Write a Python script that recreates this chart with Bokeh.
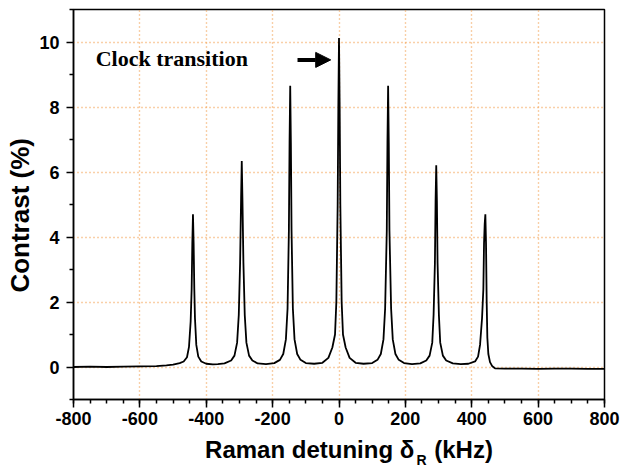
import math
from bokeh.plotting import figure
from bokeh.models import (FixedTicker, Label, Arrow, NormalHead, ColumnDataSource)
from bokeh.embed import file_html
from bokeh.resources import INLINE

# ---------------- data ----------------
detuning_khz = [
    -800, -750, -700, -650, -600, -550, -520, -500, -480, -468,
    -458, -452, -447, -444, -442, -440, -438, -436, -434, -430, -424, -415, -400, -380, -365,
    -345, -325, -315, -307, -302, -298, -295, -293, -291, -288, -284, -279, -271, -261, -245, -220,
    -195, -178, -168, -160, -155, -151, -149, -147, -145, -143, -139, -134, -126, -116, -100, -75,
    -50, -32, -20, -12, -8, -4, -2, 0, 2, 4, 8, 12, 20, 32, 50, 74,
    100, 116, 126, 134, 139, 144, 146, 148, 150, 152, 157, 162, 170, 180, 196, 220,
    245, 263, 273, 281, 285, 289, 291, 293, 295, 297, 301, 305, 313, 323, 343, 367,
    390, 410, 419, 425, 431, 435, 437, 439, 441, 443, 445, 447, 450, 455, 462, 470,
    500, 550, 600, 650, 700, 750, 800,
]
contrast_pct = [
    0.00, 0.01, 0.00, 0.01, 0.02, 0.03, 0.05, 0.07, 0.12, 0.17,
    0.30, 0.62, 1.40, 2.40, 3.80, 4.70, 3.80, 2.40, 1.50, 0.68, 0.32, 0.17, 0.10, 0.08, 0.09,
    0.11, 0.20, 0.35, 0.75, 1.60, 3.20, 5.20, 6.34, 5.20, 3.20, 1.60, 0.75, 0.35, 0.20, 0.11, 0.09,
    0.12, 0.22, 0.40, 0.85, 1.80, 4.20, 6.90, 8.65, 6.90, 4.20, 1.80, 0.85, 0.40, 0.22, 0.12, 0.10,
    0.13, 0.28, 0.60, 1.00, 2.00, 5.00, 8.00, 10.12, 8.00, 5.00, 2.00, 1.00, 0.60, 0.28, 0.13, 0.10,
    0.12, 0.22, 0.40, 0.85, 1.80, 4.20, 6.90, 8.65, 6.90, 4.20, 1.80, 0.85, 0.40, 0.22, 0.12, 0.09,
    0.11, 0.20, 0.35, 0.75, 1.60, 3.20, 5.10, 6.21, 5.10, 3.20, 1.60, 0.75, 0.35, 0.20, 0.11, 0.09,
    0.10, 0.17, 0.32, 0.68, 1.50, 2.40, 3.80, 4.40, 4.70, 3.80, 2.00, 0.90, 0.40, 0.15, 0.02, -0.04,
    -0.05, -0.05, -0.06, -0.05, -0.05, -0.06, -0.06,
]

x_major_ticks = [-800, -600, -400, -200, 0, 200, 400, 600, 800]
x_minor_ticks = list(range(-800, 801, 50))
y_major_ticks = [0, 2, 4, 6, 8, 10]
y_minor_ticks = [-1, 1, 3, 5, 7, 9, 11]

NB = "\u00a0"
x_title = NB * 3 + "Raman detuning \u03b4" + NB * 3 + "(kHz)"
x_title_sub = "R"
y_title = "Contrast (%)" + NB * 3
annotation_text = "Clock transition"
annotation_pos = (-733, 9.48)
arrow_start = (-125, 9.45)
arrow_end = (-25, 9.45)

# ---------------- figure ----------------
p = figure(width=620, height=472, x_range=(-800, 800), y_range=(-1, 11),
           output_backend="svg", toolbar_location=None)
p.min_border_left = 73
p.min_border_right = 16
p.min_border_top = 9
p.min_border_bottom = 73
p.background_fill_color = "white"
p.border_fill_color = "white"
p.outline_line_color = "black"
p.outline_line_width = 1.5

grid_color = "#f2a050"
for g in (p.xgrid, p.ygrid):
    g.grid_line_color = grid_color
    g.grid_line_width = 1.4
    g.grid_line_dash = "1 3"

p.xaxis.ticker = FixedTicker(ticks=x_major_ticks, minor_ticks=x_minor_ticks)
p.yaxis.ticker = FixedTicker(ticks=y_major_ticks, minor_ticks=y_minor_ticks)
p.xaxis.major_label_overrides = {t: str(t) for t in x_major_ticks}
p.yaxis.major_label_overrides = {t: str(t) for t in y_major_ticks}

lab_font = "Liberation Sans"
for ax in (p.xaxis, p.yaxis):
    ax.axis_line_color = "black"
    ax.axis_line_width = 1.5
    ax.major_tick_line_color = "black"
    ax.major_tick_line_width = 1.5
    ax.minor_tick_line_color = "black"
    ax.minor_tick_line_width = 1.5
    ax.major_tick_in = 0
    ax.minor_tick_in = 0
    ax.major_label_text_font = lab_font
    ax.major_label_text_font_style = "bold"
    ax.major_label_text_font_size = "18px"
    ax.major_label_text_color = "black"
    ax.axis_label_text_font = lab_font
    ax.axis_label_text_font_style = "bold"
    ax.axis_label_text_color = "black"

p.xaxis.major_tick_out = 8
p.xaxis.minor_tick_out = 4
p.xaxis.major_label_standoff = 4
p.yaxis.major_tick_out = 7
p.yaxis.minor_tick_out = 4
p.yaxis.major_label_standoff = 7

p.xaxis.axis_label = x_title
p.xaxis.axis_label_text_font_size = "24px"
p.xaxis.axis_label_standoff = 8
p.yaxis.axis_label = y_title
p.yaxis.axis_label_text_font_size = "26px"
p.yaxis.axis_label_standoff = 1

src = ColumnDataSource(dict(x=detuning_khz, y=contrast_pct))
p.line("x", "y", source=src, line_color="black", line_width=1.8)

# annotation
p.add_layout(Label(x=annotation_pos[0], y=annotation_pos[1], text=annotation_text,
                   text_font="Liberation Serif", text_font_style="bold",
                   text_font_size="22px", text_color="black",
                   text_align="left", text_baseline="alphabetic"))
p.add_layout(Arrow(x_start=arrow_start[0], y_start=arrow_start[1],
                   x_end=arrow_end[0], y_end=arrow_end[1],
                   line_color="black", line_width=4,
                   end=NormalHead(size=15, fill_color="black", line_color="black", line_width=1)))

# subscript of the x title, kept in the (narrow) right panel so it does not shrink the frame
p.add_layout(Label(x=-188, y=-60, text=x_title_sub, text_font=lab_font, text_font_style="bold",
                   text_font_size="14px", text_color="black", text_align="left",
                   text_baseline="alphabetic", x_units="screen", y_units="screen"), "right")

open("out.html", "w").write(file_html(p, INLINE))
